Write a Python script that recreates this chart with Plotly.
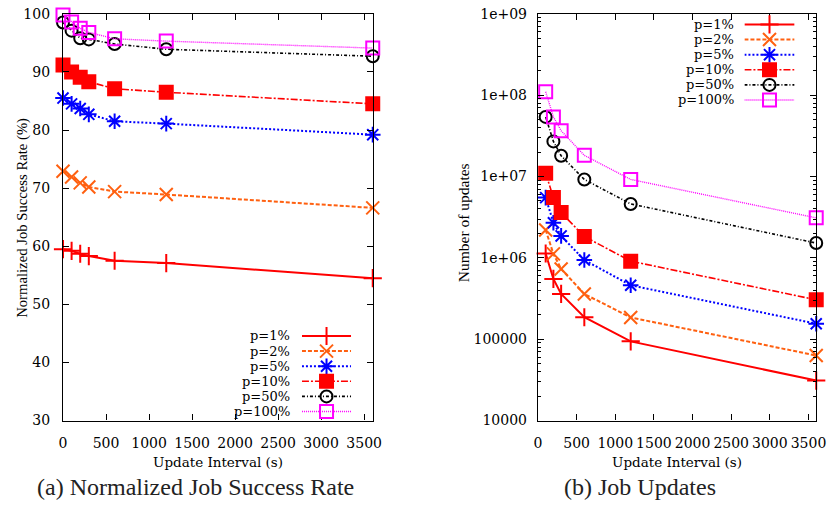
import plotly.graph_objects as go

# ---------------- data ----------------
series_names = ["p=1%", "p=2%", "p=5%", "p=10%", "p=50%", "p=100%"]

interval_rate = [0, 100, 200, 300, 600, 1200, 3600]
rate_p1 = [59.5, 59.2, 58.7, 58.3, 57.5, 57.1, 54.5]
rate_p2 = [72.9, 71.9, 70.9, 70.2, 69.4, 68.9, 66.6]
rate_p5 = [85.5, 84.5, 83.7, 82.7, 81.5, 81.1, 79.2]
rate_p10 = [91.2, 90.0, 89.1, 88.3, 87.1, 86.5, 84.5]
rate_p50 = [98.5, 97.1, 95.8, 95.6, 94.8, 93.9, 92.7]
rate_p100 = [99.8, 98.6, 97.5, 96.8, 95.7, 95.3, 94.1]

interval_upd = [100, 200, 300, 600, 1200, 3600]
upd_p1 = [1.13e6, 5.5e5, 3.6e5, 1.86e5, 9.4e4, 3.1e4]
upd_p2 = [2.2e6, 1.12e6, 7.3e5, 3.6e5, 1.85e5, 6.3e4]
upd_p5 = [5.5e6, 2.7e6, 1.86e6, 9.4e5, 4.6e5, 1.55e5]
upd_p10 = [1.1e7, 5.5e6, 3.6e6, 1.83e6, 9.1e5, 3.05e5]
upd_p50 = [5.4e7, 2.7e7, 1.8e7, 9.2e6, 4.6e6, 1.52e6]
upd_p100 = [1.1e8, 5.4e7, 3.65e7, 1.82e7, 9.2e6, 3.1e6]

rate_ticks = [30, 40, 50, 60, 70, 80, 90, 100]
x_ticks = [0, 500, 1000, 1500, 2000, 2500, 3000, 3500]
upd_tickvals = [1e4, 1e5, 1e6, 1e7, 1e8, 1e9]
upd_ticktext = ["10000", "100000", "1e+06", "1e+07", "1e+08", "1e+09"]

rate_series = [rate_p1, rate_p2, rate_p5, rate_p10, rate_p50, rate_p100]
upd_series = [upd_p1, upd_p2, upd_p5, upd_p10, upd_p50, upd_p100]

# ---------------- styles ----------------
colors = ["#ff0000", "#ff6010", "#0000ff", "#ff0000", "#000000", "#ff00ff"]
dashes = ["solid", "4px,2px", "2px,2px", "7px,2px,2px,2px", "3px,2px,1px,2px", "1px,1px"]
lwidths = [2.0, 2.0, 2.0, 1.6, 1.6, 1.4]
symbols = ["cross-thin-open", "x-thin-open", "asterisk-open", "square", "circle-open", "square-open"]
msizes = [13, 13, 13, 13, 12, 13]

SERIF = "Liberation Serif"
TICKFONT = "DejaVu Serif"
W, H = 839, 506


def px_x(p):
    return p / W


def px_y(p):
    return 1 - p / H


fig = go.Figure()


def add_series(xs, ys, i, xa, ya):
    fig.add_trace(go.Scatter(
        x=xs, y=ys, mode="lines+markers", xaxis=xa, yaxis=ya,
        line=dict(color=colors[i], width=lwidths[i], dash=dashes[i]),
        marker=dict(symbol=symbols[i], size=msizes[i], color=colors[i],
                    line=dict(color=colors[i], width=2)),
        cliponaxis=False, showlegend=False, hoverinfo="skip", name=series_names[i]))


for i in range(len(series_names)):
    add_series(interval_rate, rate_series[i], i, "x", "y")
    add_series(interval_upd, upd_series[i], i, "x2", "y2")

# legend keys (gnuplot style: text left, sample right)
for i in range(len(series_names)):
    for xa, ya in (("x3", "y3"), ("x4", "y4")):
        fig.add_trace(go.Scatter(
            x=[0, 1], y=[i, i], mode="lines", xaxis=xa, yaxis=ya,
            line=dict(color=colors[i], width=lwidths[i], dash=dashes[i]),
            showlegend=False, hoverinfo="skip", cliponaxis=False))
        fig.add_trace(go.Scatter(
            x=[0.5], y=[i], mode="markers", xaxis=xa, yaxis=ya,
            marker=dict(symbol=symbols[i], size=msizes[i], color=colors[i],
                        line=dict(color=colors[i], width=2)),
            showlegend=False, hoverinfo="skip", cliponaxis=False))

axis_common = dict(showline=True, linecolor="black", linewidth=1.3, mirror="allticks",
                   ticks="inside", ticklen=6, tickcolor="black", tickwidth=1,
                   showgrid=False, zeroline=False, ticklabeloverflow="allow",
                   tickfont=dict(family=TICKFONT, size=14, color="black"))

minor_vals = [m * 10 ** d for d in range(4, 9) for m in range(2, 10)]

aux = dict(visible=False, showgrid=False, zeroline=False, fixedrange=True)

ROW = 15.6
L_MID, R_MID = 377.7, 56.0

fig.update_layout(
    width=W, height=H, margin=dict(l=0, r=0, t=0, b=0),
    paper_bgcolor="white", plot_bgcolor="white", showlegend=False,
    xaxis=dict(domain=[px_x(60), px_x(375)], range=[0, 3600], tickvals=x_ticks,
               anchor="y", ticklabelstandoff=10, **axis_common),
    yaxis=dict(domain=[px_y(426), px_y(6)], range=[30, 100], tickvals=rate_ticks,
               anchor="x", ticklabelstandoff=9, **axis_common),
    xaxis2=dict(domain=[px_x(543), px_x(826)], range=[0, 3600], tickvals=x_ticks,
                anchor="y2", ticklabelstandoff=10, **axis_common),
    yaxis2=dict(domain=[px_y(426), px_y(6)], type="log", range=[4, 9],
                tickvals=upd_tickvals, ticktext=upd_ticktext, anchor="x2",
                ticklabelstandoff=7,
                minor=dict(ticks="inside", ticklen=3, tickcolor="black", tickvals=minor_vals),
                **axis_common),
    xaxis3=dict(domain=[px_x(303), px_x(353)], range=[0, 1], anchor="y3", **aux),
    yaxis3=dict(domain=[px_y(L_MID + 3 * ROW), px_y(L_MID - 3 * ROW)], range=[5.5, -0.5],
                anchor="x3", **aux),
    xaxis4=dict(domain=[px_x(753), px_x(804)], range=[0, 1], anchor="y4", **aux),
    yaxis4=dict(domain=[px_y(R_MID + 3 * ROW), px_y(R_MID - 3 * ROW)], range=[5.5, -0.5],
                anchor="x4", **aux),
)

annotations = []
for i, name in enumerate(series_names):
    for yref, xr in (("y3", 292), ("y4", 743)):
        annotations.append(dict(text=name, xref="paper", yref=yref, x=px_x(xr), y=i,
                                xanchor="right", yanchor="middle", showarrow=False,
                                borderpad=0,
                                font=dict(family=TICKFONT, size=13, color="black")))

# axis titles and captions
annotations += [
    dict(text="Update Interval (s)", xref="paper", yref="paper", x=px_x(217.5), y=px_y(469),
         xanchor="center", yanchor="middle", showarrow=False,
         font=dict(family=TICKFONT, size=13.5, color="black")),
    dict(text="Update Interval (s)", xref="paper", yref="paper", x=px_x(684.5), y=px_y(469),
         xanchor="center", yanchor="middle", showarrow=False,
         font=dict(family=TICKFONT, size=13.5, color="black")),
    dict(text="Normalized Job Success Rate (%)", xref="paper", yref="paper", x=px_x(18),
         y=px_y(217), xanchor="center", yanchor="middle", textangle=-90, showarrow=False,
         font=dict(family=SERIF, size=14.7, color="black")),
    dict(text="Number of updates", xref="paper", yref="paper", x=px_x(468),
         y=px_y(222), xanchor="center", yanchor="middle", textangle=-90, showarrow=False,
         font=dict(family=SERIF, size=15.5, color="black")),
    dict(text="(a) Normalized Job Success Rate", xref="paper", yref="paper", x=px_x(195),
         y=px_y(495), xanchor="center", yanchor="middle", showarrow=False,
         font=dict(family=SERIF, size=24, color="#222222")),
    dict(text="(b) Job Updates", xref="paper", yref="paper", x=px_x(647),
         y=px_y(495), xanchor="center", yanchor="middle", showarrow=False,
         font=dict(family=SERIF, size=24, color="#222222")),
]
fig.update_layout(annotations=annotations)

fig.write_html("out.html", config={"displayModeBar": False},
               post_script="document.body.style.margin='0';document.body.style.overflow='hidden';")
